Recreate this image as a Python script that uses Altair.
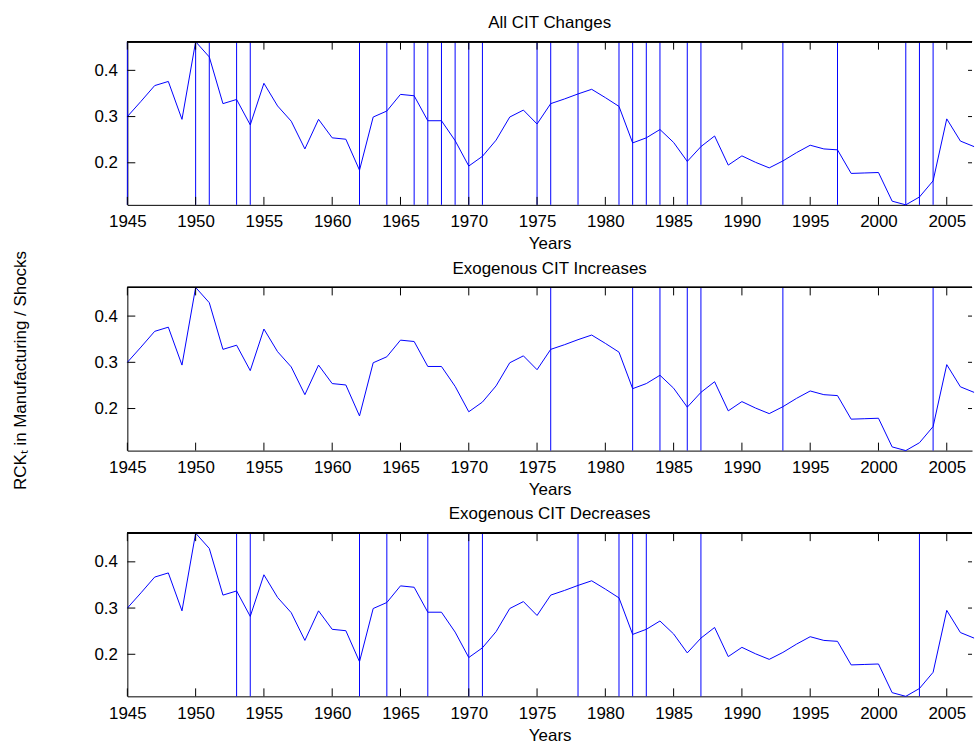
import altair as alt
import pandas as pd

years = list(range(1945, 2008))
rck = [0.300, 0.333, 0.367, 0.376, 0.294, 0.462, 0.429, 0.328, 0.337, 0.282,
       0.372, 0.323, 0.290, 0.230, 0.294, 0.254, 0.251, 0.184, 0.299, 0.312,
       0.348, 0.345, 0.291, 0.291, 0.248, 0.193, 0.214, 0.249, 0.299, 0.314,
       0.284, 0.328, 0.338, 0.349, 0.359, 0.341, 0.322, 0.243, 0.254, 0.272,
       0.244, 0.203, 0.235, 0.258, 0.195, 0.215, 0.201, 0.189, 0.204, 0.222,
       0.238, 0.230, 0.228, 0.177, 0.178, 0.179, 0.117, 0.109, 0.126, 0.161,
       0.295, 0.247, 0.235]

all_changes = [1945, 1950, 1951, 1953, 1954, 1962, 1964, 1966, 1967, 1968, 1969,
               1970, 1971, 1975, 1976, 1978, 1981, 1982, 1983, 1984, 1986, 1987,
               1993, 1997, 2002, 2003, 2004]
increases = [1976, 1982, 1984, 1986, 1987, 1993, 2004]
decreases = [1953, 1954, 1962, 1964, 1967, 1970, 1971, 1978, 1981, 1982, 1983,
             1987, 2003]

panel_titles = ["All CIT Changes", "Exogenous CIT Increases", "Exogenous CIT Decreases"]
y_title = "RCK\u209c in Manufacturing / Shocks"
x_ticks = [1945, 1950, 1955, 1960, 1965, 1970, 1975, 1980, 1985, 1990, 1995, 2000, 2005]
y_ticks = [0.2, 0.3, 0.4]

W = 849
H = 164
BLUE = "#0000ff"
FS = 17

series = pd.DataFrame({"year": years, "rck": rck})
xt = pd.DataFrame({"tx": x_ticks})
yt = pd.DataFrame({"ty": y_ticks})

xscale = alt.Scale(domain=[1945, 2006.85], nice=False, zero=False)
yscale = alt.Scale(domain=[0.109, 0.462], nice=False, zero=False)


def panel(title, shocks):
    line = alt.Chart(series).mark_line(color=BLUE, strokeWidth=1).encode(
        x=alt.X("year:Q", scale=xscale,
                axis=alt.Axis(values=x_ticks, format="d", ticks=False, grid=False,
                              domainColor="black", labelColor="black",
                              labelFontSize=FS, labelPadding=9, labelFlush=False,
                              labelOverlap=False, title="Years", titleFontSize=FS,
                              titleFontWeight="normal", titleColor="black",
                              titlePadding=6)),
        y=alt.Y("rck:Q", scale=yscale,
                axis=alt.Axis(values=y_ticks, format=".1f", ticks=False, grid=False,
                              domainColor="black", labelColor="black",
                              labelFontSize=FS, labelPadding=10, labelFlush=False,
                              title=None)),
    )
    sh = alt.Chart(pd.DataFrame({"year": shocks})).mark_rule(
        color=BLUE, strokeWidth=1).encode(
        x=alt.X("year:Q", scale=xscale, axis=None))
    xb = alt.Chart(xt).mark_rule(color="black", strokeWidth=1).encode(
        x=alt.X("tx:Q", scale=xscale, axis=None),
        y=alt.value(H), y2=alt.value(H - 8))
    xtp = alt.Chart(xt).mark_rule(color="black", strokeWidth=1).encode(
        x=alt.X("tx:Q", scale=xscale, axis=None),
        y=alt.value(0), y2=alt.value(8))
    yl = alt.Chart(yt).mark_rule(color="black", strokeWidth=1).encode(
        y=alt.Y("ty:Q", scale=yscale, axis=None),
        x=alt.value(0), x2=alt.value(8))
    yr = alt.Chart(yt).mark_rule(color="black", strokeWidth=1).encode(
        y=alt.Y("ty:Q", scale=yscale, axis=None),
        x=alt.value(W - 4), x2=alt.value(W))
    top = alt.Chart(xt).mark_rule(color="black", strokeWidth=1).encode(
        x=alt.value(0), x2=alt.value(W), y=alt.value(0))
    return alt.layer(line, sh, xb, xtp, yl, yr, top).resolve_axis(
        x="independent", y="independent"
    ).properties(
        width=W, height=H,
        title=alt.TitleParams(title, fontSize=FS, fontWeight="normal",
                              color="black", offset=8),
    )


chart = alt.vconcat(
    panel(panel_titles[0], all_changes),
    panel(panel_titles[1], increases),
    panel(panel_titles[2], decreases),
    spacing=83,
    bounds="flush",
).properties(
    padding={"left": 12, "top": 12, "right": 0, "bottom": 0},
    title=alt.TitleParams(y_title, orient="left", anchor="middle", fontSize=FS,
                          fontWeight="normal", color="black", offset=64, dx=8),
).configure(
    font="Liberation Sans"
).configure_view(stroke=None)

chart.save("out.html", embed_options={"renderer": "svg", "actions": False})
